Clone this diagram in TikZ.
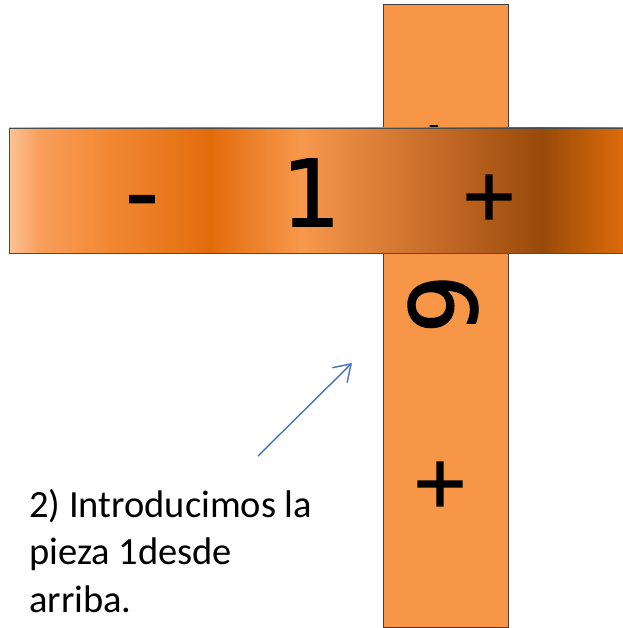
\documentclass[tikz,border=0pt]{standalone}
\usepackage{fontspec}
\setmainfont{Carlito}
\newfontfamily\glyphfont[FakeBold=1.2]{DejaVu Sans}
\newfontfamily\plusfont[FakeBold=2]{DejaVu Sans}
\usetikzlibrary{arrows.meta}
\definecolor{barorange}{RGB}{247,150,70}
\definecolor{arrowblue}{RGB}{68,114,196}
\definecolor{gA}{RGB}{251,195,150}
\definecolor{gB}{RGB}{248,158,90}
\definecolor{gC}{RGB}{243,138,55}
\definecolor{gD}{RGB}{226,108,12}
\definecolor{gE}{RGB}{247,152,75}
\definecolor{gF}{RGB}{192,102,36}
\definecolor{gG}{RGB}{152,74,10}
\definecolor{gH}{RGB}{222,107,10}
\pgfdeclarehorizontalshading{barshade}{100bp}{%
  color(0bp)=(gA); color(25bp)=(gA); color(27.5bp)=(gB); color(32.5bp)=(gC);
  color(41.4bp)=(gD); color(48.75bp)=(gE); color(61bp)=(gF); color(68.3bp)=(gG);
  color(75bp)=(gH); color(100bp)=(gH)}
\tikzset{
  glyph/.style={inner sep=0pt, font=\glyphfont\fontsize{93}{93}\selectfont},
  plusglyph/.style={inner sep=0pt, font=\plusfont\fontsize{70}{70}\selectfont},
  caption/.style={inner sep=0pt, anchor=base west, font=\fontsize{38.5}{46}\selectfont},
}
\begin{document}
\begin{tikzpicture}[x=1pt,y=-1pt]
\useasboundingbox (0,0) rectangle (622,628);
% vertical piece
\draw[fill=barorange, draw=black!75, line width=0.8pt] (383,4) rectangle (508,627);
\node[glyph, rotate=-90] (vminus) at (423,138) {-};
\node[glyph, rotate=-90] (vsix) at (443,304) {6};
\node[plusglyph] (vplus) at (440,484) {+};
% horizontal piece
\draw[shading=barshade, draw=black!70, line width=0.8pt] (9,128) rectangle (624,253);
\node[glyph] (hminus) at (142,210) {-};
\node[glyph] (hone) at (311,192.5) {1};
\node[plusglyph] (hplus) at (489,197) {+};
% caption
\node[caption] (t1) at (29,517) {2) Introducimos la};
\node[caption] (t2) at (29,564) {pieza 1desde};
\node[caption] (t3) at (29,612) {arriba.};
% arrow
\coordinate (a1) at (258,456);
\coordinate (a2) at (352,363);
\draw[arrowblue, line width=1.4pt, -{Straight Barb[length=16pt,width=21pt]}] (a1) -- (a2);
\end{tikzpicture}
\end{document}
